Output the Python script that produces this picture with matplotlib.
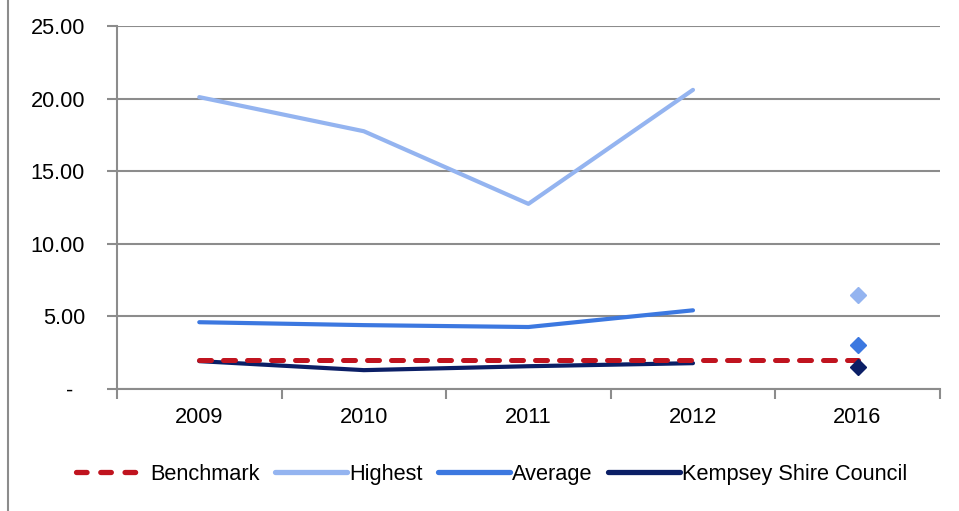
import matplotlib
matplotlib.use("Agg")
import matplotlib.pyplot as plt
from matplotlib.lines import Line2D
import numpy as np

years = ["2009", "2010", "2011", "2012", "2016"]
benchmark = [2.0, 2.0, 2.0, 2.0, 2.0]
highest = [20.1, 17.75, 12.75, 20.6]
average = [4.6, 4.4, 4.27, 5.42]
kempsey = [1.92, 1.3, 1.57, 1.78]
highest_2016 = 6.45
average_2016 = 3.0
kempsey_2016 = 1.55

plt.rcParams['font.family'] = ['Liberation Sans', 'DejaVu Sans']

c_bench = '#C0141F'
c_high = '#94B4F0'
c_avg = '#3C78E0'
c_kemp = '#0B1F66'
grey = '#8C8C8C'
fs = 15.7

fig = plt.figure(figsize=(9.59, 5.11), dpi=100)
ax = fig.add_axes([0.122, 0.2387, 0.858, 0.7105])

x = np.arange(len(years))
xl = x[:4]
ax.plot(xl, highest, color=c_high, lw=3.0, solid_capstyle='round', zorder=3)
ax.plot(xl, average, color=c_avg, lw=3.0, solid_capstyle='round', zorder=3)
ax.plot(xl, kempsey, color=c_kemp, lw=3.0, solid_capstyle='round', zorder=3)
ax.plot(x, benchmark, color=c_bench, lw=3.6, dashes=(2.4, 2.4), dash_capstyle='round', zorder=4)
ax.plot([x[4]], [highest_2016], marker='D', color=c_high, ms=8, ls='none', zorder=5)
ax.plot([x[4]], [average_2016], marker='D', color=c_avg, ms=8, ls='none', zorder=5)
ax.plot([x[4]], [kempsey_2016], marker='D', color=c_kemp, ms=8, ls='none', zorder=5)

ax.set_xlim(-0.5, 4.5)
ax.set_ylim(0, 25)
ax.set_yticks([0, 5, 10, 15, 20, 25])
ax.set_yticklabels(['-  ', '5.00', '10.00', '15.00', '20.00', '25.00'], fontsize=fs)
ax.set_xticks(x)
ax.set_xticklabels(years, fontsize=fs)
ax.tick_params(axis='x', length=0, pad=13)
ax.set_xticks(np.arange(-0.5, 4.6, 1), minor=True)
ax.tick_params(axis='x', which='minor', length=7, color=grey, width=1.5)
ax.tick_params(axis='y', length=7, color=grey, width=1.5, pad=16)

ax.yaxis.grid(True, color=grey, lw=1.5)
ax.set_axisbelow(True)
for s in ['top', 'right']:
    ax.spines[s].set_visible(False)
for s in ['left', 'bottom']:
    ax.spines[s].set_color(grey)
    ax.spines[s].set_linewidth(1.5)

handles = [
    Line2D([], [], color=c_bench, lw=3.8, dashes=(2.0, 2.6), dash_capstyle='round'),
    Line2D([], [], color=c_high, lw=3.8, solid_capstyle='round'),
    Line2D([], [], color=c_avg, lw=3.8, solid_capstyle='round'),
    Line2D([], [], color=c_kemp, lw=3.8, solid_capstyle='round'),
]
labels = ['Benchmark', 'Highest', 'Average', 'Kempsey Shire Council']
fig.legend(handles, labels, loc='center', bbox_to_anchor=(0.513, 0.072), ncol=4,
           frameon=False, fontsize=fs, handlelength=3.3, handletextpad=0.1,
           columnspacing=0.7)

fig.add_artist(Line2D([0.0085, 0.0085], [0, 1], color=grey, lw=1.5, transform=fig.transFigure))

fig.savefig('out.png', dpi=100)
